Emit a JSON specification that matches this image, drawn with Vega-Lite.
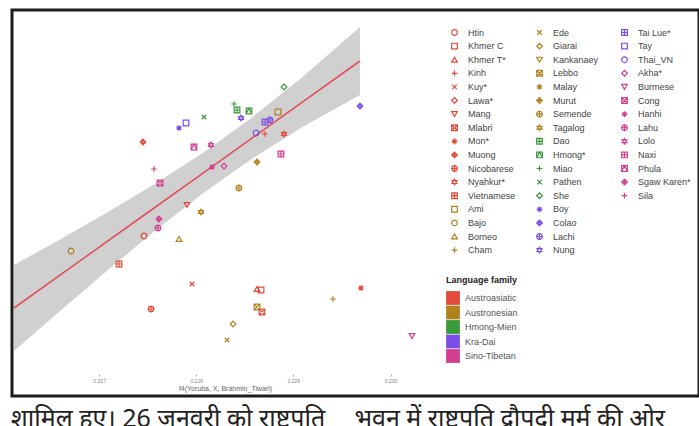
{
  "$schema": "https://vega.github.io/schema/vega-lite/v6.json",
  "width": 687,
  "height": 386,
  "padding": {"left": 10, "top": 10, "right": 2, "bottom": 0},
  "autosize": {"type": "pad"},
  "background": "white",
  "config": {
    "font": "Liberation Sans",
    "view": {"stroke": "#1c1c1c", "strokeWidth": 3}
  },
  "title": {
    "text": "शामिल हुए। 26 जनवरी को राष्ट्रपति\u2003\u2009भवन में राष्ट्रपति द्रौपदी मुर्मू की ओर",
    "orient": "bottom",
    "anchor": "start",
    "fontSize": 25,
    "fontWeight": "normal",
    "font": "Noto Sans",
    "color": "#222222",
    "offset": 11
  },
  "datasets": {
    "pts": [
      {"pop": "Htin", "family": "Austroasiatic", "x": 0.227463, "y": 3.964},
      {"pop": "Khmer C", "family": "Austroasiatic", "x": 0.228667, "y": 2.342},
      {"pop": "Khmer T*", "family": "Austroasiatic", "x": 0.228626, "y": 2.372},
      {"pop": "Kinh", "family": "Austroasiatic", "x": 0.228708, "y": 7.027},
      {"pop": "Kuy*", "family": "Austroasiatic", "x": 0.227957, "y": 2.523},
      {"pop": "Mang", "family": "Austroasiatic", "x": 0.227905, "y": 4.895},
      {"pop": "Mlabri", "family": "Austroasiatic", "x": 0.228677, "y": 1.682},
      {"pop": "Mon*", "family": "Austroasiatic", "x": 0.229695, "y": 2.402},
      {"pop": "Muong", "family": "Austroasiatic", "x": 0.227453, "y": 6.787},
      {"pop": "Nicobarese", "family": "Austroasiatic", "x": 0.227535, "y": 1.772},
      {"pop": "Nyahkur*", "family": "Austroasiatic", "x": 0.228903, "y": 7.027},
      {"pop": "Vietnamese", "family": "Austroasiatic", "x": 0.227206, "y": 3.123},
      {"pop": "Ami", "family": "Austronesian", "x": 0.228842, "y": 7.688},
      {"pop": "Bajo", "family": "Austronesian", "x": 0.226712, "y": 3.514},
      {"pop": "Borneo", "family": "Austronesian", "x": 0.227823, "y": 3.874},
      {"pop": "Cham", "family": "Austronesian", "x": 0.229407, "y": 2.072},
      {"pop": "Ede", "family": "Austronesian", "x": 0.228317, "y": 0.841},
      {"pop": "Giarai", "family": "Austronesian", "x": 0.228379, "y": 1.321},
      {"pop": "Lebbo", "family": "Austronesian", "x": 0.228626, "y": 1.832},
      {"pop": "Murut", "family": "Austronesian", "x": 0.228626, "y": 6.186},
      {"pop": "Semende", "family": "Austronesian", "x": 0.22844, "y": 5.405},
      {"pop": "Tagalog", "family": "Austronesian", "x": 0.228049, "y": 4.685},
      {"pop": "Dao", "family": "Hmong-Mien", "x": 0.22842, "y": 7.748},
      {"pop": "Hmong*", "family": "Hmong-Mien", "x": 0.228543, "y": 7.718},
      {"pop": "Miao", "family": "Hmong-Mien", "x": 0.228389, "y": 7.928},
      {"pop": "Pathen", "family": "Hmong-Mien", "x": 0.22808, "y": 7.538},
      {"pop": "She", "family": "Hmong-Mien", "x": 0.228903, "y": 8.438},
      {"pop": "Boy", "family": "Kra-Dai", "x": 0.227823, "y": 7.207},
      {"pop": "Colao", "family": "Kra-Dai", "x": 0.229685, "y": 7.868},
      {"pop": "Lachi", "family": "Kra-Dai", "x": 0.228759, "y": 7.447},
      {"pop": "Nung", "family": "Kra-Dai", "x": 0.228461, "y": 7.508},
      {"pop": "Tai Lue*", "family": "Kra-Dai", "x": 0.228708, "y": 7.387},
      {"pop": "Tay", "family": "Kra-Dai", "x": 0.227895, "y": 7.357},
      {"pop": "Thai_VN", "family": "Kra-Dai", "x": 0.228615, "y": 7.057},
      {"pop": "Akha*", "family": "Sino-Tibetan", "x": 0.228286, "y": 6.066},
      {"pop": "Burmese", "family": "Sino-Tibetan", "x": 0.23022, "y": 0.961},
      {"pop": "Cong", "family": "Sino-Tibetan", "x": 0.227628, "y": 5.556},
      {"pop": "Hanhi", "family": "Sino-Tibetan", "x": 0.228163, "y": 6.036},
      {"pop": "Lahu", "family": "Sino-Tibetan", "x": 0.227607, "y": 4.204},
      {"pop": "Lolo", "family": "Sino-Tibetan", "x": 0.228152, "y": 6.697},
      {"pop": "Naxi", "family": "Sino-Tibetan", "x": 0.228872, "y": 6.426},
      {"pop": "Phula", "family": "Sino-Tibetan", "x": 0.227977, "y": 6.637},
      {"pop": "Sgaw Karen*", "family": "Sino-Tibetan", "x": 0.227617, "y": 4.474},
      {"pop": "Sila", "family": "Sino-Tibetan", "x": 0.227566, "y": 5.976}
    ],
    "fit": [
      {"x": 0.226126, "y": 1.802, "lo": 0.511, "hi": 3.093},
      {"x": 0.226516, "y": 2.616, "lo": 1.505, "hi": 3.727},
      {"x": 0.227031, "y": 3.688, "lo": 2.796, "hi": 4.58},
      {"x": 0.227545, "y": 4.76, "lo": 4.048, "hi": 5.471},
      {"x": 0.22806, "y": 5.832, "lo": 5.222, "hi": 6.441},
      {"x": 0.228574, "y": 6.904, "lo": 6.282, "hi": 7.526},
      {"x": 0.229088, "y": 7.976, "lo": 7.231, "hi": 8.721},
      {"x": 0.229685, "y": 9.219, "lo": 8.198, "hi": 10.24}
    ],
    "vg": [
      {"x": 0.2265}, {"x": 0.227}, {"x": 0.2275}, {"x": 0.228},
      {"x": 0.2285}, {"x": 0.229}, {"x": 0.2295}, {"x": 0.23}
    ],
    "hg": [
      {"y": 0}, {"y": 1}, {"y": 2}, {"y": 3}, {"y": 4}, {"y": 5},
      {"y": 6}, {"y": 7}, {"y": 8}, {"y": 9}, {"y": 10}
    ]
  },
  "data": {"name": "pts"},
  "encoding": {
    "x": {
      "field": "x",
      "type": "quantitative",
      "scale": {"domain": [0.226105, 0.233173], "nice": false, "zero": false},
      "axis": {
        "title": "f4(Yoruba, X, Brahmin_Tiwari)",
        "values": [0.227, 0.228, 0.229, 0.23],
        "format": ".3f",
        "grid": false,
        "domain": false,
        "offset": -22,
        "tickSize": 2,
        "tickColor": "#aaaaaa",
        "labelFontSize": 5,
        "labelColor": "#888888",
        "labelPadding": 2,
        "titleFontSize": 7,
        "titleFontWeight": "normal",
        "titleColor": "#666666",
        "titlePadding": 1,
        "titleX": 213
      }
    },
    "y": {
      "field": "y",
      "type": "quantitative",
      "scale": {"domain": [-0.841, 10.751], "nice": false, "zero": false},
      "axis": null
    }
  },
  "layer": [
    {
      "data": {"name": "vg"},
      "mark": {"type": "rule", "color": "#ebebeb", "strokeWidth": 1},
      "encoding": {
        "y": {"datum": -0.18},
        "y2": {"datum": 10.69}
      }
    },
    {
      "data": {"name": "hg"},
      "mark": {"type": "rule", "color": "#ebebeb", "strokeWidth": 1},
      "encoding": {
        "x": {"datum": 0.226126},
        "x2": {"datum": 0.230426}
      }
    },
    {
      "data": {"values": [{"panel": 1}]},
      "mark": {"type": "rect", "fill": null, "stroke": "#a0a0a0", "strokeWidth": 1.2},
      "encoding": {
        "x": {"datum": 0.226126},
        "x2": {"datum": 0.230426},
        "y": {"datum": -0.18},
        "y2": {"datum": 10.69}
      }
    },
    {
      "data": {"name": "fit"},
      "mark": {"type": "area", "color": "#c4c4c4", "opacity": 0.8},
      "encoding": {
        "y": {"field": "hi", "type": "quantitative"},
        "y2": {"field": "lo"}
      }
    },
    {
      "data": {"name": "fit"},
      "mark": {"type": "line", "color": "#e0505a", "strokeWidth": 1.6},
      "encoding": {}
    },
    {
      "transform": [{"filter": {"field": "pop", "oneOf": ["Htin", "Khmer C", "Khmer T*", "Kinh", "Kuy*", "Lawa*", "Mang", "Mlabri", "Mon*", "Muong", "Nicobarese", "Nyahkur*", "Vietnamese", "Ami", "Bajo", "Borneo", "Cham"]}}],
      "mark": {"type": "point", "filled": false, "size": 32, "strokeWidth": 1.2, "opacity": 1},
      "encoding": {
        "color": {
          "field": "pop", "type": "nominal",
          "scale": {
            "domain": ["Htin", "Khmer C", "Khmer T*", "Kinh", "Kuy*", "Lawa*", "Mang", "Mlabri", "Mon*", "Muong", "Nicobarese", "Nyahkur*", "Vietnamese", "Ami", "Bajo", "Borneo", "Cham"],
            "range": ["#e24b3b", "#e24b3b", "#e24b3b", "#e24b3b", "#e24b3b", "#e24b3b", "#e24b3b", "#e24b3b", "#e24b3b", "#e24b3b", "#e24b3b", "#e24b3b", "#e24b3b", "#b0811f", "#b0811f", "#b0811f", "#b0811f"]
          },
          "legend": {"title": null, "orient": "none", "legendX": 438, "legendY": 18, "padding": 0, "labelFontSize": 9, "labelColor": "#444444", "symbolSize": 32, "symbolStrokeWidth": 1.2, "rowPadding": 2.6, "labelOffset": 9, "labelLimit": 200}
        },
        "shape": {
          "field": "pop", "type": "nominal",
          "scale": {
            "domain": ["Htin", "Khmer C", "Khmer T*", "Kinh", "Kuy*", "Lawa*", "Mang", "Mlabri", "Mon*", "Muong", "Nicobarese", "Nyahkur*", "Vietnamese", "Ami", "Bajo", "Borneo", "Cham"],
            "range": ["circle", "square", "triangle-up", "M-1,0H1M0,-1V1", "M-0.8,-0.8L0.8,0.8M-0.8,0.8L0.8,-0.8", "diamond", "triangle-down", "M-1,-1H1V1H-1ZM-1,-1L1,1M-1,1L1,-1", "M-1,0H1M0,-1V1M-0.7,-0.7L0.7,0.7M-0.7,0.7L0.7,-0.7", "M0,-1L1,0L0,1L-1,0ZM0,-1V1M-1,0H1", "M1,0A1,1 0 1,1 -1,0A1,1 0 1,1 1,0ZM-1,0H1M0,-1V1", "M0,-1L0.87,0.5H-0.87ZM0,1L0.87,-0.5H-0.87Z", "M-1,-1H1V1H-1ZM0,-1V1M-1,0H1", "square", "circle", "triangle-up", "M-1,0H1M0,-1V1"]
          },
          "legend": {"title": null, "orient": "none", "legendX": 438, "legendY": 18, "padding": 0, "labelFontSize": 9, "labelColor": "#444444", "symbolSize": 32, "symbolStrokeWidth": 1.2, "rowPadding": 2.6, "labelOffset": 9, "labelLimit": 200}
        }
      }
    },
    {
      "transform": [{"filter": {"field": "pop", "oneOf": ["Ede", "Giarai", "Kankanaey", "Lebbo", "Malay", "Murut", "Semende", "Tagalog", "Dao", "Hmong*", "Miao", "Pathen", "She", "Boy", "Colao", "Lachi", "Nung"]}}],
      "mark": {"type": "point", "filled": false, "size": 32, "strokeWidth": 1.2, "opacity": 1},
      "encoding": {
        "color": {
          "field": "pop", "type": "nominal",
          "scale": {
            "domain": ["Ede", "Giarai", "Kankanaey", "Lebbo", "Malay", "Murut", "Semende", "Tagalog", "Dao", "Hmong*", "Miao", "Pathen", "She", "Boy", "Colao", "Lachi", "Nung"],
            "range": ["#b0811f", "#b0811f", "#b0811f", "#b0811f", "#b0811f", "#b0811f", "#b0811f", "#b0811f", "#3a9a3a", "#3a9a3a", "#3a9a3a", "#3a9a3a", "#3a9a3a", "#7a4ee6", "#7a4ee6", "#7a4ee6", "#7a4ee6"]
          },
          "legend": {"title": null, "orient": "none", "legendX": 523, "legendY": 18, "padding": 0, "labelFontSize": 9, "labelColor": "#444444", "symbolSize": 32, "symbolStrokeWidth": 1.2, "rowPadding": 2.6, "labelOffset": 9, "labelLimit": 200}
        },
        "shape": {
          "field": "pop", "type": "nominal",
          "scale": {
            "domain": ["Ede", "Giarai", "Kankanaey", "Lebbo", "Malay", "Murut", "Semende", "Tagalog", "Dao", "Hmong*", "Miao", "Pathen", "She", "Boy", "Colao", "Lachi", "Nung"],
            "range": ["M-0.8,-0.8L0.8,0.8M-0.8,0.8L0.8,-0.8", "diamond", "triangle-down", "M-1,-1H1V1H-1ZM-1,-1L1,1M-1,1L1,-1", "M-1,0H1M0,-1V1M-0.7,-0.7L0.7,0.7M-0.7,0.7L0.7,-0.7", "M0,-1L1,0L0,1L-1,0ZM0,-1V1M-1,0H1", "M1,0A1,1 0 1,1 -1,0A1,1 0 1,1 1,0ZM-1,0H1M0,-1V1", "M0,-1L0.87,0.5H-0.87ZM0,1L0.87,-0.5H-0.87Z", "M-1,-1H1V1H-1ZM0,-1V1M-1,0H1", "M-1,-1H1V1H-1ZM-1,1L0,-1L1,1", "M-1,0H1M0,-1V1", "M-0.8,-0.8L0.8,0.8M-0.8,0.8L0.8,-0.8", "diamond", "M-1,0H1M0,-1V1M-0.7,-0.7L0.7,0.7M-0.7,0.7L0.7,-0.7", "M0,-1L1,0L0,1L-1,0ZM0,-1V1M-1,0H1", "M1,0A1,1 0 1,1 -1,0A1,1 0 1,1 1,0ZM-1,0H1M0,-1V1", "M0,-1L0.87,0.5H-0.87ZM0,1L0.87,-0.5H-0.87Z"]
          },
          "legend": {"title": null, "orient": "none", "legendX": 523, "legendY": 18, "padding": 0, "labelFontSize": 9, "labelColor": "#444444", "symbolSize": 32, "symbolStrokeWidth": 1.2, "rowPadding": 2.6, "labelOffset": 9, "labelLimit": 200}
        }
      }
    },
    {
      "transform": [{"filter": {"field": "pop", "oneOf": ["Tai Lue*", "Tay", "Thai_VN", "Akha*", "Burmese", "Cong", "Hanhi", "Lahu", "Lolo", "Naxi", "Phula", "Sgaw Karen*", "Sila"]}}],
      "mark": {"type": "point", "filled": false, "size": 32, "strokeWidth": 1.2, "opacity": 1},
      "encoding": {
        "color": {
          "field": "pop", "type": "nominal",
          "scale": {
            "domain": ["Tai Lue*", "Tay", "Thai_VN", "Akha*", "Burmese", "Cong", "Hanhi", "Lahu", "Lolo", "Naxi", "Phula", "Sgaw Karen*", "Sila"],
            "range": ["#7a4ee6", "#7a4ee6", "#7a4ee6", "#d23f8e", "#d23f8e", "#d23f8e", "#d23f8e", "#d23f8e", "#d23f8e", "#d23f8e", "#d23f8e", "#d23f8e", "#d23f8e"]
          },
          "legend": {"title": null, "orient": "none", "legendX": 608, "legendY": 18, "padding": 0, "labelFontSize": 9, "labelColor": "#444444", "symbolSize": 32, "symbolStrokeWidth": 1.2, "rowPadding": 2.6, "labelOffset": 9, "labelLimit": 200}
        },
        "shape": {
          "field": "pop", "type": "nominal",
          "scale": {
            "domain": ["Tai Lue*", "Tay", "Thai_VN", "Akha*", "Burmese", "Cong", "Hanhi", "Lahu", "Lolo", "Naxi", "Phula", "Sgaw Karen*", "Sila"],
            "range": ["M-1,-1H1V1H-1ZM0,-1V1M-1,0H1", "square", "circle", "diamond", "triangle-down", "M-1,-1H1V1H-1ZM-1,-1L1,1M-1,1L1,-1", "M-1,0H1M0,-1V1M-0.7,-0.7L0.7,0.7M-0.7,0.7L0.7,-0.7", "M1,0A1,1 0 1,1 -1,0A1,1 0 1,1 1,0ZM-1,0H1M0,-1V1", "M0,-1L0.87,0.5H-0.87ZM0,1L0.87,-0.5H-0.87Z", "M-1,-1H1V1H-1ZM0,-1V1M-1,0H1", "M-1,-1H1V1H-1ZM-1,1L0,-1L1,1", "M0,-1L1,0L0,1L-1,0ZM0,-1V1M-1,0H1", "M-1,0H1M0,-1V1"]
          },
          "legend": {"title": null, "orient": "none", "legendX": 608, "legendY": 18, "padding": 0, "labelFontSize": 9, "labelColor": "#444444", "symbolSize": 32, "symbolStrokeWidth": 1.2, "rowPadding": 2.6, "labelOffset": 9, "labelLimit": 200}
        }
      }
    },
    {
      "mark": {"type": "square", "opacity": 0},
      "encoding": {
        "color": {
          "field": "family", "type": "nominal",
          "scale": {
            "domain": ["Austroasiatic", "Austronesian", "Hmong-Mien", "Kra-Dai", "Sino-Tibetan"],
            "range": ["#e24b3b", "#b0811f", "#3a9a3a", "#7a4ee6", "#d23f8e"]
          },
          "legend": {"title": "Language family", "orient": "none", "legendX": 434, "legendY": 266, "padding": 0, "titleFontSize": 9, "titleFontWeight": "bold", "titleColor": "#222222", "titlePadding": 6, "labelFontSize": 9, "labelColor": "#555555", "symbolType": "square", "symbolSize": 190, "symbolStrokeWidth": 0, "symbolOpacity": 1, "rowPadding": 0.5, "labelOffset": 5}
        }
      }
    }
  ],
  "resolve": {"scale": {"color": "independent", "shape": "independent"}}
}
